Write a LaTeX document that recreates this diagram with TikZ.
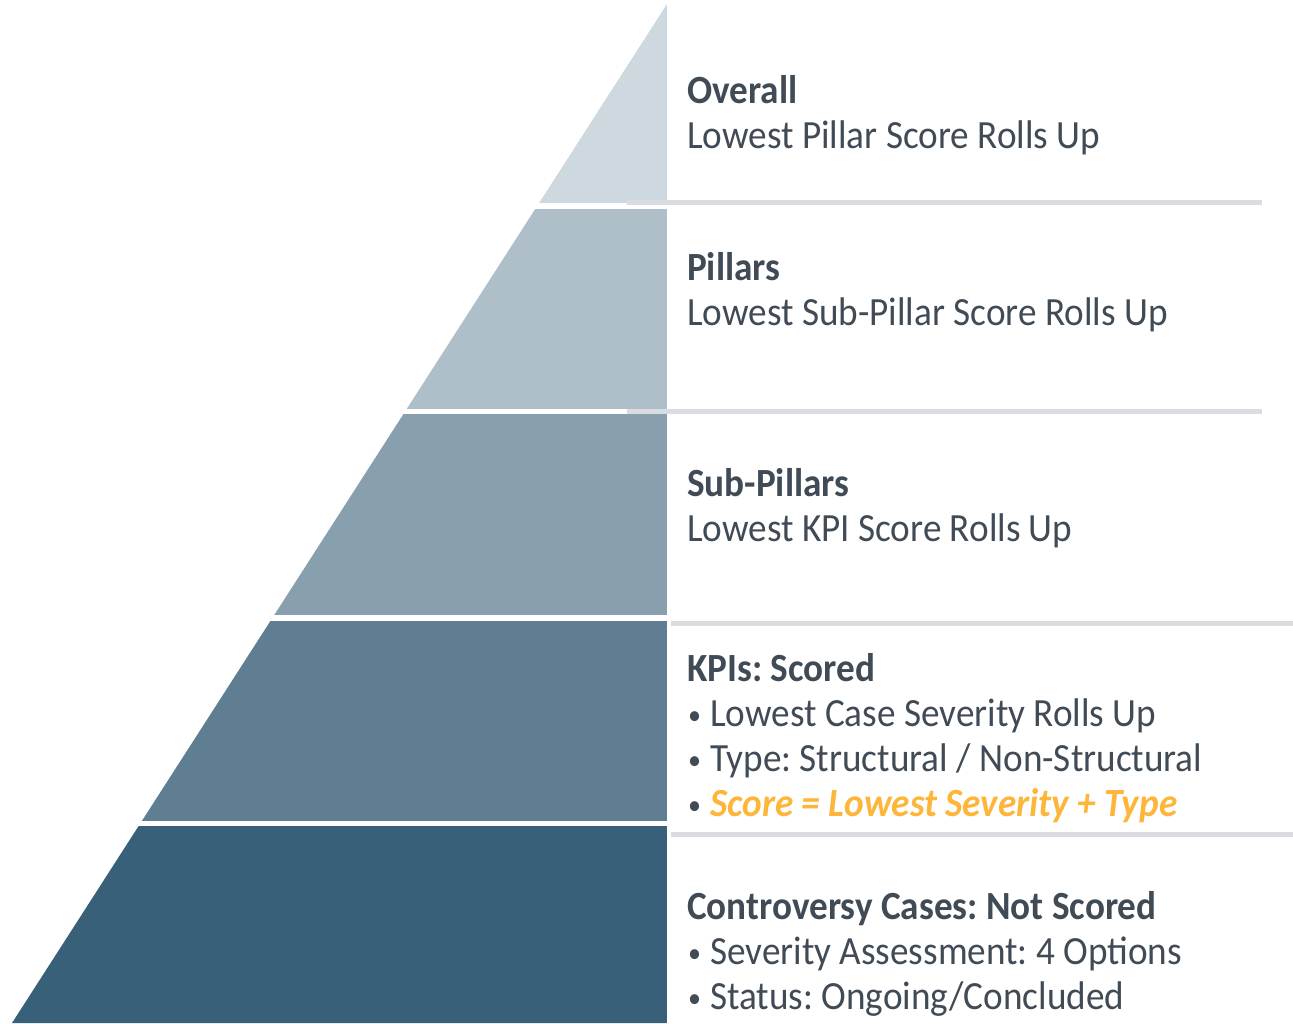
\documentclass[tikz,border=0pt]{standalone}
\usepackage{fontspec}
\setmainfont{Carlito}[FakeStretch=0.93]
\usetikzlibrary{positioning}
\frenchspacing

\definecolor{tierA}{HTML}{CDD8DF}
\definecolor{tierB}{HTML}{AEBFC9}
\definecolor{tierC}{HTML}{889FAD}
\definecolor{tierD}{HTML}{5F7E92}
\definecolor{tierE}{HTML}{386078}
\definecolor{rulegray}{HTML}{D9DCE0}
\definecolor{inkgray}{HTML}{404B56}
\definecolor{scoreorange}{HTML}{FDB53A}

\newcommand\tierbullet{\makebox[23pt][l]{\hspace{1pt}\raisebox{2pt}{\scalebox{0.7}{\textbullet}}}}

\tikzset{
  tierlabel/.style={anchor=north west, align=left, inner sep=0pt, text=inkgray,
    font=\fontsize{40}{45}\selectfont},
  tierrule/.style={draw=rulegray, line width=5pt},
}

\begin{document}
\begin{tikzpicture}[x=1pt,y=-1pt]
  \useasboundingbox (0,0) rectangle (1293,1023);

  % pyramid, cut into tiers
  \begin{scope}
    \clip (667,4) -- (667,1023) -- (12,1023) -- cycle;
    \foreach \top/\bot/\col in {0/203/tierA,209/409/tierB,414/615/tierC,621/821/tierD,826/1030/tierE}
      \fill[\col] (0,\top) rectangle (667,\bot);
  \end{scope}

  % rules on the right
  \draw[tierrule] (627,202.5) -- (1262,202.5);
  \draw[tierrule] (627,411.5) -- (1262,411.5);
  \draw[tierrule] (671,623.5) -- (1293,623.5);
  \draw[tierrule] (671,834.5) -- (1293,834.5);

  % tier texts
  \node[tierlabel] (overall) at (687,71.5) {\strut\textbf{Overall}\\Lowest Pillar Score Rolls Up};
  \node[tierlabel] (pillars) at (687,248.5) {\strut\textbf{Pillars}\\Lowest Sub-Pillar Score Rolls Up};
  \node[tierlabel] (subpillars) at (687,464.5) {\strut\textbf{Sub-Pillars}\\Lowest KPI Score Rolls Up};
  \node[tierlabel] (kpis) at (687,649.5) {\strut\textbf{KPIs: Scored}\\
    \tierbullet Lowest Case Severity Rolls Up\\
    \tierbullet Type: Structural / Non-Structural\\
    \tierbullet{\color{scoreorange}\bfseries\itshape Score = Lowest Severity + Type}};
  \node[tierlabel] (cases) at (687,887.5) {\strut\textbf{Controversy Cases: Not Scored}\\
    \tierbullet Severity Assessment: 4 Options\\
    \tierbullet Status: Ongoing/Concluded};
\end{tikzpicture}
\end{document}
